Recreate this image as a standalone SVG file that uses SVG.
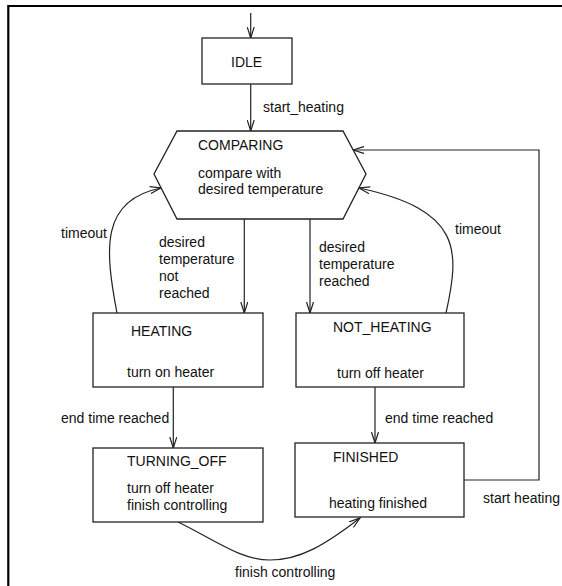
<svg xmlns="http://www.w3.org/2000/svg" width="562" height="586" viewBox="0 0 562 586">
<style>
.bg{fill:#fff}
.node{fill:#fff;stroke:#222;stroke-width:1.3}
.edge{fill:none;stroke:#222;stroke-width:1.2}
.frame{fill:none;stroke:#000;stroke-width:2.2}
text{font-family:"Liberation Sans",Arial,sans-serif;font-size:14px;fill:#111}
</style>
<defs>
<marker id="arr" markerWidth="12" markerHeight="8" refX="11" refY="4" orient="auto" markerUnits="userSpaceOnUse">
<path d="M0,0.5 L11,4 L0,7.5" fill="none" stroke="#222" stroke-width="1.2"/>
</marker>
</defs>
<rect class="bg" x="0" y="0" width="562" height="586"/>
<path class="frame" d="M8.3,586 V6 H562"/>

<g id="connectors">
<path class="edge" d="M250.7,13 V38" marker-end="url(#arr)"/>
<path class="edge" d="M250.7,84 V131" marker-end="url(#arr)"/>
<path class="edge" d="M244.3,219 V313" marker-end="url(#arr)"/>
<path class="edge" d="M310,219 V313" marker-end="url(#arr)"/>
<path class="edge" d="M173.3,387 V448" marker-end="url(#arr)"/>
<path class="edge" d="M375,387 V443" marker-end="url(#arr)"/>
<path class="edge" d="M117,313 C105,250 100,200 161,188" marker-end="url(#arr)"/>
<path class="edge" d="M446,313 C460,250 462,210 359,188" marker-end="url(#arr)"/>
<path class="edge" d="M464,480 H539 V150 H353" marker-end="url(#arr)"/>
<path class="edge" d="M178,522 C215,540 240,560 270,560 C300,560 325,545 360,518" marker-end="url(#arr)"/>
<text x="263" y="112">start_heating</text>
<text x="61" y="238">timeout</text>
<text x="455" y="234">timeout</text>
<text x="159" y="247">desired</text>
<text x="159" y="264">temperature</text>
<text x="159" y="281">not</text>
<text x="159" y="298">reached</text>
<text x="319" y="252">desired</text>
<text x="319" y="269">temperature</text>
<text x="319" y="286">reached</text>
<text x="61" y="423">end time reached</text>
<text x="385" y="423">end time reached</text>
<text x="483" y="503">start heating</text>
<text x="235" y="577">finish controlling</text>
</g>

<g id="idle">
<rect class="node" x="202" y="38" width="90" height="46"/>
<text x="231" y="67">IDLE</text>
</g>

<g id="comparing">
<polygon class="node" points="177,131 343,131 366,174 343,219 177,219 154,174"/>
<text x="198" y="150">COMPARING</text>
<text x="198" y="178">compare with</text>
<text x="198" y="194">desired temperature</text>
</g>

<g id="heating">
<rect class="node" x="93" y="313" width="170" height="74"/>
<text x="131" y="336">HEATING</text>
<text x="127" y="377">turn on heater</text>
</g>

<g id="not_heating">
<rect class="node" x="296" y="313" width="168" height="74"/>
<text x="333" y="332">NOT_HEATING</text>
<text x="337" y="378">turn off heater</text>
</g>

<g id="turning_off">
<rect class="node" x="93" y="448" width="170" height="74"/>
<text x="127" y="466">TURNING_OFF</text>
<text x="127" y="493">turn off heater</text>
<text x="127" y="510">finish controlling</text>
</g>

<g id="finished">
<rect class="node" x="295" y="443" width="169" height="74"/>
<text x="333" y="462">FINISHED</text>
<text x="329" y="508">heating finished</text>
</g>
</svg>
